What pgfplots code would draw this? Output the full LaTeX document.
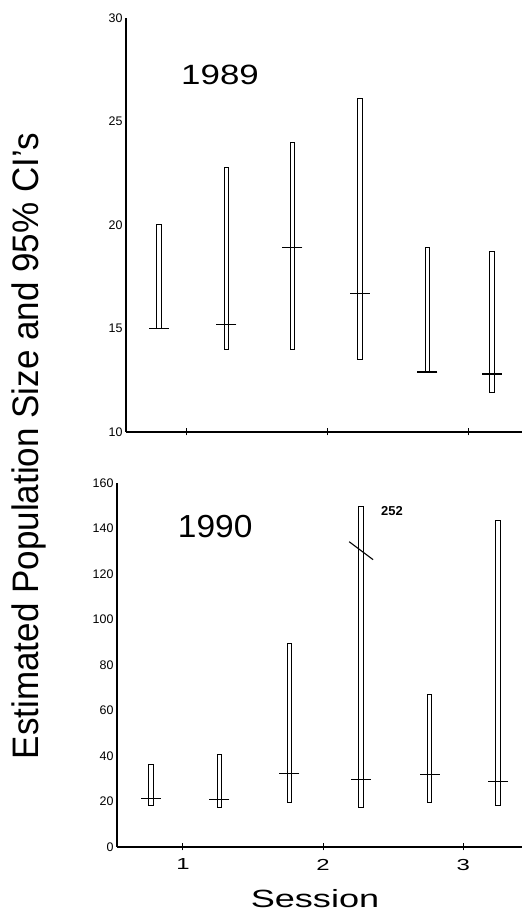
\documentclass[border=0pt]{standalone}
\usepackage{fontspec}
\setmainfont{Liberation Sans}
\usepackage{pgfplots}
\pgfplotsset{compat=1.18}
\begin{document}
\begin{tikzpicture}
\useasboundingbox (0,0) rectangle (523bp,917bp);
\pgfplotsset{
  panel/.style={scale only axis, axis lines=left, axis line style={-, line width=1.2bp},
    ytick style={draw=none}, xtick={1,2,3}, xtick style={line width=1bp, black},
    major tick length=7bp, tick align=center, clip=false,
    tick label style={font=\fontsize{12.5}{12.5}\selectfont},
    yticklabel style={xshift=3.5bp},
    /pgf/number format/assume math mode=true},
  ci/.style={black, line width=1bp, line join=miter, no marks},
  est/.style={black, only marks, mark=-, mark size=10bp, mark options={line width=1.3bp}},
}
% 1989
\begin{axis}[panel, at={(126bp,485bp)}, anchor=south west, width=396bp, height=414bp,
  xmin=0.566, xmax=3.384, ymin=10, ymax=30, ytick={10,15,...,30}, xticklabels={}]
\addplot[ci] coordinates {(0.784,15.0) (0.816,15.0) (0.816,20.0) (0.784,20.0) (0.784,15.0)};
\addplot[ci] coordinates {(1.264,14.0) (1.296,14.0) (1.296,22.8) (1.264,22.8) (1.264,14.0)};
\addplot[ci] coordinates {(1.734,14.0) (1.766,14.0) (1.766,24.0) (1.734,24.0) (1.734,14.0)};
\addplot[ci] coordinates {(2.214,13.5) (2.246,13.5) (2.246,26.1) (2.214,26.1) (2.214,13.5)};
\addplot[ci] coordinates {(2.694,12.9) (2.726,12.9) (2.726,18.9) (2.694,18.9) (2.694,12.9)};
\addplot[ci] coordinates {(3.154,11.9) (3.186,11.9) (3.186,18.7) (3.154,18.7) (3.154,11.9)};
\addplot[est] coordinates {(0.80,15.0) (1.28,15.2) (1.75,18.9) (2.23,16.7) (2.71,12.9) (3.17,12.8)};
\node[font=\fontsize{28}{28}\selectfont, xscale=1.25] at (axis cs:1.235,27.25) {1989};
\end{axis}
% 1990
\begin{axis}[panel, at={(117bp,70bp)}, anchor=south west, width=405bp, height=364bp,
  xmin=0.529, xmax=3.42, ymin=0, ymax=160, ytick={0,20,...,160},
  xticklabels={\scalebox{1.5}[1]{1},\scalebox{1.5}[1]{2},\scalebox{1.5}[1]{3}},
  xticklabel style={font=\fontsize{16}{16}\selectfont, yshift=-5bp}]
\addplot[ci] coordinates {(0.754,18.1) (0.786,18.1) (0.786,36.2) (0.754,36.2) (0.754,18.1)};
\addplot[ci] coordinates {(1.244,17.2) (1.276,17.2) (1.276,40.6) (1.244,40.6) (1.244,17.2)};
\addplot[ci] coordinates {(1.744,19.4) (1.776,19.4) (1.776,89.6) (1.744,89.6) (1.744,19.4)};
\addplot[ci] coordinates {(2.254,17.2) (2.286,17.2) (2.286,149.7) (2.254,149.7) (2.254,17.2)};
\addplot[ci] coordinates {(2.744,19.4) (2.776,19.4) (2.776,67.1) (2.744,67.1) (2.744,19.4)};
\addplot[ci] coordinates {(3.234,18.1) (3.266,18.1) (3.266,143.5) (3.234,143.5) (3.234,18.1)};
\addplot[est] coordinates {(0.77,21.2) (1.26,20.8) (1.76,32.2) (2.27,29.6) (2.76,31.8) (3.25,28.7)};
% break in the upper limit of the fourth interval (true value 252)
\addplot[black, line width=1.1bp, no marks] coordinates {(2.186,134.2) (2.357,126.3)};
\node[anchor=west, font=\fontsize{13}{13}\selectfont\bfseries] at (axis cs:2.39,147.5) {252};
\node[font=\fontsize{32}{32}\selectfont, xscale=1.05] at (axis cs:1.23,140.8) {1990};
\end{axis}
\node[rotate=90, anchor=base, font=\fontsize{37}{37}\selectfont] at (38bp,471bp)
  {\scalebox{0.95}[1]{Estimated Population Size and 95\% CI's}};
\node[anchor=base, font=\fontsize{25}{25}\selectfont] at (315bp,10bp) {\scalebox{1.45}[1]{Session}};
\end{tikzpicture}
\end{document}
